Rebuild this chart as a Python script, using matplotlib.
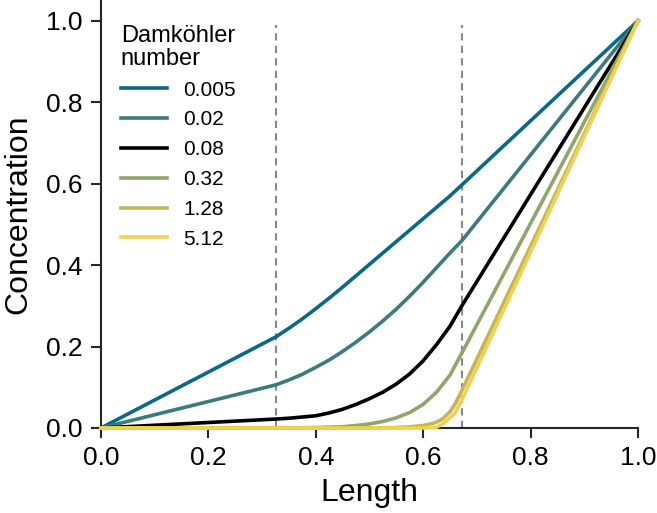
import numpy as np
import matplotlib.pyplot as plt

plt.rcParams['font.family'] = ['Liberation Sans', 'DejaVu Sans']

# values
labels = ["0.005", "0.02", "0.08", "0.32", "1.28", "5.12"]
colors = ["#0a6888", "#3a7c7e", "#000000", "#90a56b", "#c1b75a", "#f4d04c"]

x_005 = [0, 0.326, 0.35, 0.375, 0.40, 0.425, 0.45, 0.475, 0.50, 0.525, 0.55,
         0.575, 0.60, 0.625, 0.65, 0.672, 0.75, 0.85, 1.0]
y_005 = [0, 0.224, 0.245, 0.268, 0.293, 0.319, 0.346, 0.374, 0.402, 0.430, 0.458,
         0.486, 0.514, 0.542, 0.570, 0.597, 0.693, 0.816, 1.0]

x_02 = [0, 0.326, 0.35, 0.375, 0.40, 0.425, 0.45, 0.475, 0.50, 0.525, 0.55,
        0.575, 0.60, 0.625, 0.65, 0.672, 1.0]
y_02 = [0, 0.106, 0.118, 0.132, 0.149, 0.167, 0.188, 0.211, 0.236, 0.263, 0.292,
        0.324, 0.358, 0.394, 0.430, 0.460, 1.0]

x_08 = [0, 0.326, 0.35, 0.375, 0.40, 0.425, 0.45, 0.475, 0.50, 0.525, 0.55,
        0.575, 0.60, 0.625, 0.65, 0.672, 1.0]
y_08 = [0, 0.022, 0.024, 0.027, 0.030, 0.037, 0.046, 0.058, 0.072, 0.088, 0.108,
        0.133, 0.165, 0.205, 0.250, 0.300, 1.0]

x_32 = [0, 0.326, 0.40, 0.45, 0.475, 0.50, 0.525, 0.55, 0.575, 0.60, 0.625, 0.65, 0.672, 1.0]
y_32 = [0, 0.0, 0.001, 0.003, 0.006, 0.010, 0.016, 0.025, 0.038, 0.058, 0.088, 0.130, 0.184, 1.0]

x_128 = [0, 0.326, 0.50, 0.55, 0.575, 0.60, 0.62, 0.635, 0.65, 0.66, 0.672, 1.0]
y_128 = [0, 0.0, 0.0, 0.001, 0.003, 0.006, 0.012, 0.021, 0.040, 0.060, 0.092, 1.0]

x_512 = [0, 0.326, 0.60, 0.625, 0.6375, 0.659, 0.675, 1.0]
y_512 = [0, 0.0, 0.0, 0.002, 0.011, 0.036, 0.077, 1.0]

xs = [x_005, x_02, x_08, x_32, x_128, x_512]
ys = [y_005, y_02, y_08, y_32, y_128, y_512]

layer_edges = [0.326, 0.672]

fig = plt.figure(figsize=(6.57, 5.13), dpi=100)
ax = fig.add_axes([0.1537, 0.1657, 0.8173, 0.8333])

for xv, yv, lab, col in zip(xs, ys, labels, colors):
    ax.plot(xv, yv, color=col, lw=2.6, label=lab, clip_on=False, zorder=3,
            solid_joinstyle="round")

for xe in layer_edges:
    ax.plot([xe, xe], [0, 0.99], color="#888888", ls=(0, (3.5, 2.5)), lw=1.5, zorder=2)

ticks = np.arange(0, 1.01, 0.2)
ax.set_xlim(0, 1.0)
ax.set_ylim(0, 1.05)
ax.set_xticks(ticks)
ax.set_yticks(ticks)
ax.set_xticklabels([f"{v:.1f}" for v in ticks])
ax.set_yticklabels([f"{v:.1f}" for v in ticks])
ax.tick_params(direction="out", length=7, width=1.5, labelsize=19, color="#262626", pad=6)
for side in ["top", "right"]:
    ax.spines[side].set_visible(False)
for side in ["left", "bottom"]:
    ax.spines[side].set_linewidth(1.5)
    ax.spines[side].set_color("#262626")

ax.set_xlabel("Length", fontsize=23, labelpad=6)
ax.set_ylabel("Concentration", fontsize=23, labelpad=9)

leg = ax.legend(title="Damköhler\nnumber", loc="upper left", bbox_to_anchor=(0.01, 0.977),
                frameon=False, fontsize=15, title_fontsize=17, handlelength=2.2,
                labelspacing=0.52, alignment="left", borderaxespad=0.3)
leg.get_title().set_linespacing(1.05)

fig.savefig("out.png", dpi=100)
